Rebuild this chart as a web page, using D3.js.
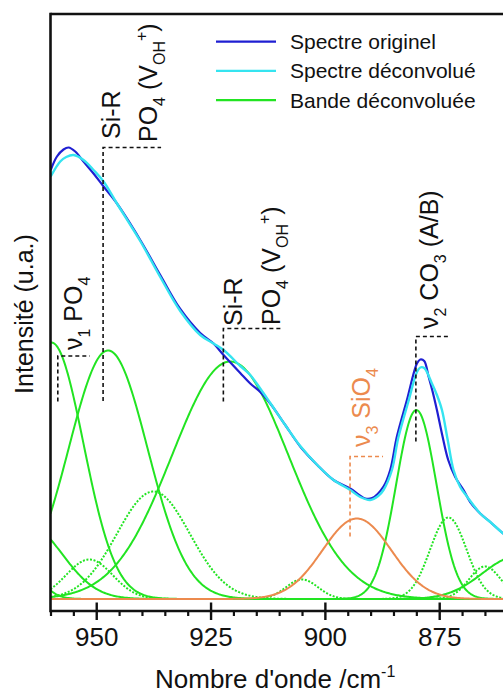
<!DOCTYPE html>
<html>
<head>
<meta charset="utf-8">
<script src="https://cdn.jsdelivr.net/npm/d3@7"></script>
<style>
  html, body { margin: 0; padding: 0; background: #ffffff; }
  svg { display: block; font-family: "Liberation Sans", Arial, sans-serif; }
</style>
</head>
<body>
<script>
// ---------------- DATA ----------------
// Original spectrum (wavenumber cm-1, intensity a.u.)
const originalWn = [959.95, 958.59, 957.15, 956.06, 954.59, 952.78, 950.59, 948.40, 945.47, 940.38,
  936.00, 931.63, 927.26, 924.35, 922.16, 918.51, 916.32, 914.14, 911.95, 908.67, 905.39, 901.67,
  898.11, 894.46, 891.18, 889.65, 887.18, 885.71, 884.25, 882.06, 879.87, 879.15, 878.28, 877.33,
  876.53, 875.50, 874.34, 873.03, 871.50, 869.68, 868.22, 866.03, 863.84, 861.00, 859.91];
const originalI = [85.8, 88.5, 89.9, 90.3, 89.5, 87.5, 85.1, 82.5, 79.1, 71.8,
  64.8, 58.0, 53.2, 51.1, 48.8, 45.2, 43.1, 41.4, 39.1, 34.8, 30.5, 26.8,
  23.8, 22.1, 20.1, 20.2, 22.5, 25.8, 32.5, 39.8, 47.1, 47.9, 47.6, 44.5,
  41.8, 37.8, 32.8, 27.8, 24.4, 21.8, 19.4, 17.1, 15.4, 13.1, 12.4];

// Deconvolved (fitted) spectrum
const fittedWn = [959.95, 957.87, 956.56, 954.96, 952.78, 950.59, 948.40, 945.47, 940.38, 936.00,
  931.63, 927.26, 924.35, 922.16, 918.51, 916.32, 914.14, 911.95, 908.67, 905.39, 901.67, 898.11,
  894.46, 892.27, 890.09, 888.34, 887.18, 885.34, 883.96, 881.77, 879.87, 879.15, 878.28, 876.59,
  875.50, 874.40, 873.14, 871.87, 870.41, 868.94, 866.03, 863.84, 861.00, 859.91];
const fittedI = [84.5, 87.5, 88.4, 88.8, 87.8, 85.8, 83.5, 79.1, 71.6, 64.4,
  57.6, 52.8, 51.1, 49.8, 46.6, 44.8, 42.1, 39.2, 34.8, 30.6, 26.8, 23.8,
  21.8, 20.4, 19.8, 20.6, 21.8, 25.8, 32.2, 39.4, 45.4, 46.3, 46.2, 43.1,
  40.8, 37.8, 31.8, 25.8, 22.4, 20.5, 17.1, 15.4, 13.1, 12.4];

// Deconvolved bands (centre cm-1, height a.u., FWHM cm-1, kind)
const bandCenter = [959.8, 965.0, 967.0, 947.4, 951.5, 937.5, 920.7, 905.0, 893.0, 880.0, 873.0, 865.0, 858.0];
const bandHeight = [51.3, 14.9, 8.0, 49.7, 7.9, 21.5, 47.5, 3.9, 16.1, 37.8, 16.3, 6.5, 8.5];
const bandFwhm   = [16.5, 17.7, 9.4, 20.3, 12.0, 18.8, 29.9, 8.2, 17.7, 10.4, 9.4, 8.2, 17.7];
const bandKind   = ["main", "main", "main", "main", "minor", "minor", "main", "minor", "silicate", "main", "minor", "minor", "main"];

const majorTicks = [950, 925, 900, 875];
const minorTicks = [960, 955, 945, 940, 935, 930, 920, 915, 910, 905, 895, 890, 885, 880, 870, 865, 860];

const legendLabels = ["Spectre originel", "Spectre déconvolué", "Bande déconvoluée"];

// ---------------- LAYOUT ----------------
const W = 503, H = 695;
const svg = d3.select("body").append("svg").attr("width", W).attr("height", H);

const x = d3.scaleLinear().domain([960, 860]).range([50.5, 507.8]);
const y = d3.scaleLinear().domain([-2.4, 117]).range([611, 14]);

const colors = {
  original: "#1f1fd2",
  fitted: "#35e4f0",
  main: "#22e422",
  minor: "#22e422",
  silicate: "#ec8a4e",
  black: "#111111"
};

svg.append("defs").append("clipPath").attr("id", "plotclip")
  .append("rect").attr("x", 51).attr("y", 14).attr("width", 470).attr("height", 597);

const plot = svg.append("g").attr("clip-path", "url(#plotclip)");

// Bands
const grid = d3.range(960, 859.9, -0.25);
const bandLine = d3.line().x(d => x(d[0])).y(d => y(d[1]));
const order = d3.range(bandCenter.length).sort((a, b) => {
  const r = k => (bandKind[k] === "minor" ? 0 : bandKind[k] === "main" ? 1 : 2);
  return r(a) - r(b);
});
order.forEach(i => {
  const s = bandFwhm[i] / 2.3548;
  const pts = grid.map(w => [w, bandHeight[i] * Math.exp(-((w - bandCenter[i]) ** 2) / (2 * s * s))]);
  plot.append("path")
    .attr("d", bandLine(pts))
    .attr("fill", "none")
    .attr("stroke", colors[bandKind[i]])
    .attr("stroke-width", 2)
    .attr("stroke-dasharray", bandKind[i] === "minor" ? "2,1.6" : null);
});

// Spectra
const specLine = d3.line().x(d => x(d[0])).y(d => y(d[1])).curve(d3.curveCatmullRom.alpha(0.5));
plot.append("path")
  .attr("d", specLine(originalWn.map((w, i) => [w, originalI[i]])))
  .attr("fill", "none").attr("stroke", colors.original).attr("stroke-width", 2.2);
plot.append("path")
  .attr("d", specLine(fittedWn.map((w, i) => [w, fittedI[i]])))
  .attr("fill", "none").attr("stroke", colors.fitted).attr("stroke-width", 2.4);

// ---------------- AXES ----------------
const axisY = 611;
const minorAxis = d3.axisBottom(x).tickValues(minorTicks).tickSize(5).tickFormat("");
const gMinor = svg.append("g").attr("transform", `translate(0,${axisY})`).call(minorAxis);
gMinor.select(".domain").remove();
gMinor.selectAll(".tick line").attr("stroke", colors.black).attr("stroke-width", 2.2);

const majorAxis = d3.axisBottom(x).tickValues(majorTicks).tickSize(17.5).tickPadding(8).tickFormat(d3.format("d"));
const gMajor = svg.append("g").attr("transform", `translate(0,${axisY - 8.5})`).call(majorAxis);
gMajor.select(".domain").remove();
gMajor.selectAll(".tick line").attr("stroke", colors.black).attr("stroke-width", 2.4);
gMajor.selectAll(".tick text").attr("fill", colors.black)
  .style("font-size", "26px").style("font-family", "'Liberation Sans', Arial, sans-serif");

// frame lines
svg.append("line").attr("x1", 50.5).attr("x2", 510).attr("y1", axisY).attr("y2", axisY)
  .attr("stroke", colors.black).attr("stroke-width", 2.6);
svg.append("line").attr("x1", 50.5).attr("x2", 510).attr("y1", 14).attr("y2", 14)
  .attr("stroke", colors.black).attr("stroke-width", 2.6);
svg.append("line").attr("x1", 50.5).attr("x2", 50.5).attr("y1", 12.7).attr("y2", axisY + 1.3)
  .attr("stroke", colors.black).attr("stroke-width", 2.6);

// axis titles
const xt = svg.append("text").attr("x", 155).attr("y", 688).attr("fill", colors.black)
  .style("font-size", "26px");
xt.append("tspan").text("Nombre d'onde /cm");
xt.append("tspan").text("-1").attr("font-size", 16).attr("dy", -11);

svg.append("text")
  .attr("transform", "translate(33,314) rotate(-90)")
  .attr("text-anchor", "middle")
  .attr("fill", colors.black)
  .style("font-size", "25px")
  .text("Intensité (u.a.)");

// ---------------- LEGEND ----------------
const legendColors = [colors.original, colors.fitted, colors.main];
legendLabels.forEach((lab, i) => {
  const ly = 41.7 + i * 29.2;
  svg.append("line").attr("x1", 216).attr("x2", 276).attr("y1", ly).attr("y2", ly)
    .attr("stroke", legendColors[i]).attr("stroke-width", 2.2);
  svg.append("text").attr("x", 290).attr("y", ly).attr("dy", "0.36em")
    .attr("fill", colors.black).style("font-size", "21px").text(lab);
});

// ---------------- ANNOTATIONS ----------------
function vlabel(xb, yStart, parts, color) {
  const t = svg.append("text")
    .attr("transform", `translate(${xb},${yStart}) rotate(-90)`)
    .attr("fill", color).style("font-size", "25px");
  let cur = 0;
  parts.forEach(p => {
    const target = p.sub ? 8 : p.sup ? -10 : 0;
    const ts = t.append("tspan").text(p.t).attr("dy", target - cur);
    if (p.sub || p.sup) ts.attr("font-size", 16);
    cur = target;
  });
}
function bracket(w, top, bottom, arm, color) {
  const x0 = x(w);
  svg.append("path")
    .attr("d", `M${x0},${y(bottom)}V${y(top)}H${x0 + arm}`)
    .attr("fill", "none").attr("stroke", color)
    .attr("stroke-width", 1.6).attr("stroke-dasharray", "4,3");
}

// nu1 PO4
bracket(958.4, 48.6, 39.5, 32, colors.black);
vlabel(82, 350, [{t: "ν"}, {t: "1", sub: true}, {t: " PO"}, {t: "4", sub: true}], colors.black);

// Si-R / PO4 (VOH+) near 948
bracket(948.5, 90.3, 39.6, 58, colors.black);
vlabel(120, 139, [{t: "Si-R"}], colors.black);
vlabel(157, 142, [{t: "PO"}, {t: "4", sub: true}, {t: " (V"}, {t: "OH", sub: true}, {t: "+", sup: true}, {t: ")"}], colors.black);

// Si-R / PO4 (VOH+) near 922
bracket(922.2, 54.1, 39.5, 60, colors.black);
vlabel(242, 326, [{t: "Si-R"}], colors.black);
vlabel(280, 325, [{t: "PO"}, {t: "4", sub: true}, {t: " (V"}, {t: "OH", sub: true}, {t: "+", sup: true}, {t: ")"}], colors.black);

// nu3 SiO4
bracket(894.5, 28.5, 12.5, 33, colors.silicate);
vlabel(370, 447, [{t: "ν"}, {t: "3", sub: true}, {t: " SiO"}, {t: "4", sub: true}], colors.silicate);

// nu2 CO3 (A/B)
bracket(880.1, 52.5, 31.5, 34, colors.black);
vlabel(438, 329, [{t: "ν"}, {t: "2", sub: true}, {t: " CO"}, {t: "3", sub: true}, {t: " (A/B)"}], colors.black);
</script>
</body>
</html>
